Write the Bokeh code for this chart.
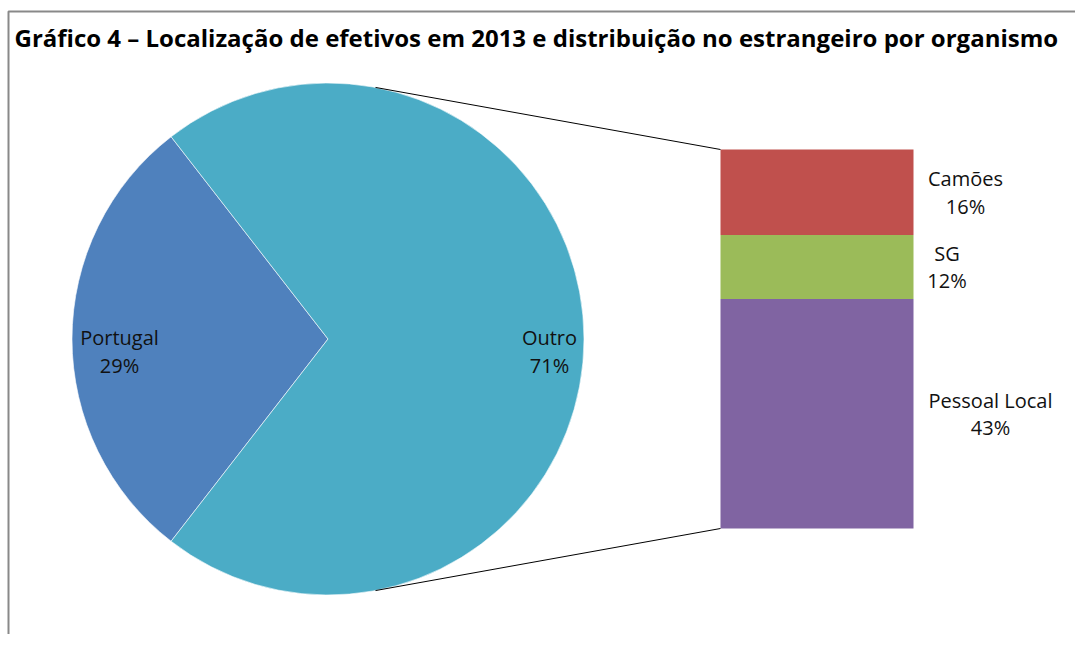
import numpy as np
from bokeh.plotting import figure
from bokeh.models import Range1d, ColumnDataSource
from bokeh.core.properties import value
from bokeh.embed import file_html
from bokeh.resources import INLINE

# ---------------- data ----------------
title_text = "Gráfico 4 – Localização de efetivos em 2013 e distribuição no estrangeiro por organismo"
pie_labels = ["Portugal", "Outro"]
pie_values = [29, 71]
bar_labels = ["Camões", "SG", "Pessoal Local"]   # top to bottom
bar_values = [16, 12, 43]

# ---------------- style / layout ----------------
pie_colors = ["#4F81BD", "#4BACC6"]
bar_colors = ["#C0504D", "#9BBB59", "#8064A2"]
FONT = "Open Sans"
W, H = 1075, 634
OX, OY = 0, 0                           # page offset of the canvas
cx, cy, R = 327.5, 338.5, 256           # pie centre (page px) and radius
label_dist = [208.5, 221.5]             # distance of pie labels from centre
bar_left, bar_right = 720, 913
bar_top_px, bar_bottom_px = 149, 528
bar_label_x = [965, 946.5, 990]
conn_angle = 79.3                       # degrees where connectors leave the pie

p = figure(width=W, height=H, output_backend="svg", toolbar_location=None,
           x_range=Range1d(OX, OX + W), y_range=Range1d(-(OY + H), -OY),
           x_axis_type=None, y_axis_type=None,
           min_border=0, min_border_left=0, min_border_right=0,
           min_border_top=0, min_border_bottom=0,
           outline_line_color=None, background_fill_color="white")
p.grid.visible = False

# secondary range for the bar of pie (values 0..sum mapped on screen)
total_bar = sum(bar_values)
px_per_unit = (bar_bottom_px - bar_top_px) / total_bar
b_start = -((OY + H) - bar_bottom_px) / px_per_unit
p.extra_y_ranges = {"bar": Range1d(b_start, b_start + H / px_per_unit)}

# ---------------- frame ----------------
p.line(x=[8, 8, OX + W + 10], y=[-(OY + H + 20), -11, -11],
       line_color="#898989", line_width=2)

# ---------------- pie ----------------
tot = sum(pie_values)
span = [v / tot * 2 * np.pi for v in pie_values]
start0 = np.pi - span[0] / 2
starts = [start0, start0 + span[0]]
ends = [start0 + span[0], start0 + span[0] + span[1]]
pie_src = ColumnDataSource(dict(start=starts, end=ends, color=pie_colors))
p.wedge(x=cx, y=-cy, radius=R, radius_units="screen",
        start_angle="start", end_angle="end", fill_color="color",
        line_color="white", line_width=0.6, source=pie_src)

mids = [(s + e) / 2 for s, e in zip(starts, ends)]
lx = [cx + d * np.cos(m) for d, m in zip(label_dist, mids)]
p.text(x=lx, y=[-(cy - 1.5)] * 2, text=pie_labels, text_font=value(FONT),
       text_font_size="20px", text_align="center", text_baseline="alphabetic",
       text_color="#111111")
p.text(x=lx, y=[-(cy + 26)] * 2, text=[f"{v}%" for v in pie_values],
       text_font=value(FONT), text_font_size="20px", text_align="center",
       text_baseline="alphabetic", text_color="#111111")

# ---------------- bar of pie ----------------
rev = bar_values[::-1]
bottoms_rev = np.concatenate([[0], np.cumsum(rev)[:-1]])
tops_rev = np.cumsum(rev)
bottoms = list(bottoms_rev[::-1])
tops = list(tops_rev[::-1])
mids_b = [(b + t) / 2 for b, t in zip(bottoms, tops)]
bar_src = ColumnDataSource(dict(b=bottoms, t=tops, color=bar_colors))
p.vbar(x=(bar_left + bar_right) / 2, width=bar_right - bar_left, bottom="b", top="t",
       fill_color="color", line_color=None, y_range_name="bar", source=bar_src)

name_src = ColumnDataSource(dict(x=bar_label_x,
                                 y=[m + 13.5 / px_per_unit for m in mids_b],
                                 t=bar_labels))
pct_src = ColumnDataSource(dict(x=bar_label_x,
                                y=[m - 13.8 / px_per_unit for m in mids_b],
                                t=[f"{v}%" for v in bar_values]))
for src in (name_src, pct_src):
    p.text(x="x", y="y", text="t", source=src, y_range_name="bar",
           text_font=value(FONT), text_font_size="20px", text_align="center",
           text_baseline="alphabetic", text_color="#111111")

# ---------------- connectors ----------------
a = np.deg2rad(conn_angle)
px_ = cx + R * np.cos(a)
top_y_data = -(cy - R * np.sin(a))
bot_y_data = -(cy + R * np.sin(a))
p.segment(x0=[px_, px_], y0=[top_y_data, bot_y_data],
          x1=[bar_left, bar_left], y1=[-bar_top_px, -bar_bottom_px],
          line_color="black", line_width=1)

# ---------------- title ----------------
p.text(x=[14], y=[-37], text=[title_text], text_font=value(FONT),
       text_font_style="bold", text_font_size="24px", text_align="left",
       text_baseline="alphabetic", text_color="black")

open("out.html", "w").write(file_html(p, INLINE))
